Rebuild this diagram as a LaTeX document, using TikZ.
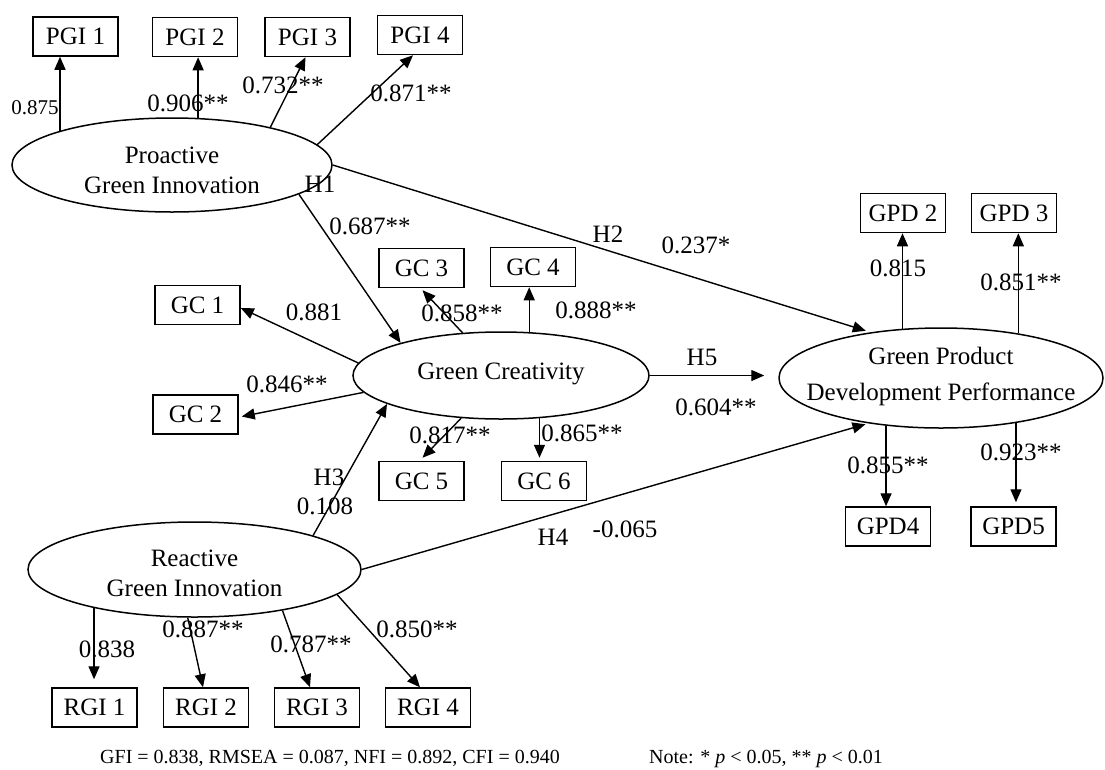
\documentclass[tikz,border=0pt]{standalone}
\usepackage{fontspec}
\setmainfont{Liberation Serif}
\usetikzlibrary{arrows.meta,shapes.geometric}
\begin{document}
\begin{tikzpicture}[x=1pt,y=-1pt,
 box/.style={draw,line width=1.5pt,minimum width=85pt,minimum height=39pt,inner sep=0pt,font=\fontsize{25}{25}\selectfont},
 lat/.style={draw,ellipse,line width=1.5pt,inner sep=0pt},
 ltxt/.style={font=\fontsize{25}{30}\selectfont,align=center,inner sep=0pt},
 lab/.style={font=\fontsize{25}{25}\selectfont,inner sep=0pt},
 smalllab/.style={font=\fontsize{21}{21}\selectfont,inner sep=0pt},
 foot/.style={font=\fontsize{20}{20}\selectfont,inner sep=0pt},
 arr/.style={line width=1.4pt,-{Triangle[length=13pt,width=11pt]}},
 ln/.style={line width=1.4pt},
]
\useasboundingbox (0,0) rectangle (1105,769);

% latent variables
\node[lat,minimum width=320pt,minimum height=94pt] (pi) at (172,165) {};
\node[ltxt] (pit) at (172,170) {Proactive\\Green Innovation};
\node[lat,minimum width=296pt,minimum height=87pt] (gc) at (501,375.5) {};
\node[ltxt] (gct) at (501,374) {Green Creativity};
\node[lat,minimum width=324pt,minimum height=100pt] (gpd) at (941,378) {};
\node[ltxt,font=\fontsize{25}{36}\selectfont] (gpdt) at (941,376) {Green Product\\Development Performance};
\node[lat,minimum width=333pt,minimum height=95pt] (ri) at (194.5,569.5) {};
\node[ltxt] (rit) at (194.5,573) {Reactive\\Green Innovation};

% indicators
\node[box] (pgi1) at (75.5,36.5) {PGI 1};
\node[box] (pgi2) at (195,37) {PGI 2};
\node[box] (pgi3) at (307.5,37) {PGI 3};
\node[box] (pgi4) at (420,35) {PGI 4};
\node[box] (gc1) at (197.5,305) {GC 1};
\node[box] (gc2) at (195.5,414.5) {GC 2};
\node[box] (gc3) at (421.5,268) {GC 3};
\node[box] (gc4) at (533,267) {GC 4};
\node[box] (gc5) at (421.5,481) {GC 5};
\node[box] (gc6) at (544,481) {GC 6};
\node[box] (gpd2) at (903,213) {GPD 2};
\node[box] (gpd3) at (1014,213) {GPD 3};
\node[box] (gpd4) at (888,526.5) {GPD4};
\node[box] (gpd5) at (1013.5,526.5) {GPD5};
\node[box] (rgi1) at (94.5,707.5) {RGI 1};
\node[box] (rgi2) at (206,707.5) {RGI 2};
\node[box] (rgi3) at (317,707.5) {RGI 3};
\node[box] (rgi4) at (428,707.5) {RGI 4};

% loadings
\draw[arr] (pi.163.9) -- (pi.163.9 |- pgi1.south);
\draw[arr] (pi.61.7) -- (pi.61.7 |- pgi2.south);
\draw[arr] (pi.21.7) -- ([xshift=-2pt]pgi3.south);
\draw[arr] (pi.8.4) -- ([xshift=-7pt]pgi4.south);

\draw[arr] (gc.175) -- ([yshift=-3pt]gc1.east);
\draw[arr] (gc.187.9) -- ([xshift=3pt,yshift=-2pt]gc2.east);
\draw[arr] (gc.132.1) -- ([xshift=1pt,yshift=-2pt]gc3.south);
\draw[arr] (gc.57.8) -- (gc.57.8 |- gc4.south);
\draw[arr] (gc.227.9) -- ([xshift=1pt,yshift=3pt]gc5.north);
\draw[arr,shorten >=3pt] (gc.312.9) -- (gc.312.9 |- gc6.north);

\draw[arr] (gpd.128.8) -- (gpd.128.8 |- gpd2.south);
\draw[arr] (gpd.30.6) -- (gpd.30.6 |- gpd3.south);
\draw[arr] (gpd.221.7) -- (gpd.221.7 |- gpd4.north);
\draw[arr,shorten >=4pt] (gpd.329.4) -- (gpd.329.4 |- gpd5.north);

\draw[arr,shorten >=8pt] (ri.201.5) -- (ri.201.5 |- rgi1.north);
\draw[arr] (ri.262.2) -- ([xshift=-3pt]rgi2.north);
\draw[arr] (ri.335.9) -- ([xshift=-7pt]rgi3.north);
\draw[arr] (ri.350.5) -- ([xshift=-8pt]rgi4.north);

% structural paths
\draw[arr] (pi.347.6) -- (gc.162.5);
\draw[arr,shorten >=5pt] (pi.east) -- (gpd.147.7);
\draw[arr] (ri.16) -- (gc.194.5);
\draw[arr,shorten >=3pt] (ri.east) -- (gpd.212.3);
\draw[arr,shorten >=14pt] (gc.east) -- (gc.east -| gpd.west);

% labels
\node[smalllab] (l875) at (35,108) {0.875};
\node[lab] (l906) at (188,103) {0.906**};
\node[lab] (l732) at (283,85) {0.732**};
\node[lab] (l871) at (411,93) {0.871**};
\node[lab] (h1) at (320,184) {H1};
\node[lab] (l687) at (370,226) {0.687**};
\node[lab] (h2) at (608,234) {H2};
\node[lab] (l237) at (696,245) {0.237*};
\node[lab] (l881) at (314,312) {0.881};
\node[lab] (l858) at (462,313) {0.858**};
\node[lab] (l888) at (596,310) {0.888**};
\node[lab] (l846) at (287,384) {0.846**};
\node[lab] (l817) at (450,435) {0.817**};
\node[lab] (l865) at (582,433) {0.865**};
\node[lab] (h5) at (702,357) {H5};
\node[lab] (l604) at (716,407) {0.604**};
\node[lab] (l815) at (898,268) {0.815};
\node[lab] (l851) at (1021,282) {0.851**};
\node[lab] (l855) at (888,465) {0.855**};
\node[lab] (l923) at (1021,452) {0.923**};
\node[lab] (h3) at (329,477) {H3};
\node[lab] (l108) at (325,506) {0.108};
\node[lab] (h4) at (553,537) {H4};
\node[lab] (l065) at (625,529) {-0.065};
\node[lab] (l838) at (107,649) {0.838};
\node[lab] (l887) at (203,629) {0.887**};
\node[lab] (l787) at (311,644) {0.787**};
\node[lab] (l850) at (417,629) {0.850**};

% footnote
\node[foot,anchor=base west] (fit) at (100,763) {GFI = 0.838, RMSEA = 0.087, NFI = 0.892, CFI = 0.940};
\node[foot,anchor=base east] (note) at (883,763) {Note: * \textit{p} < 0.05, ** \textit{p} < 0.01};
\end{tikzpicture}
\end{document}
